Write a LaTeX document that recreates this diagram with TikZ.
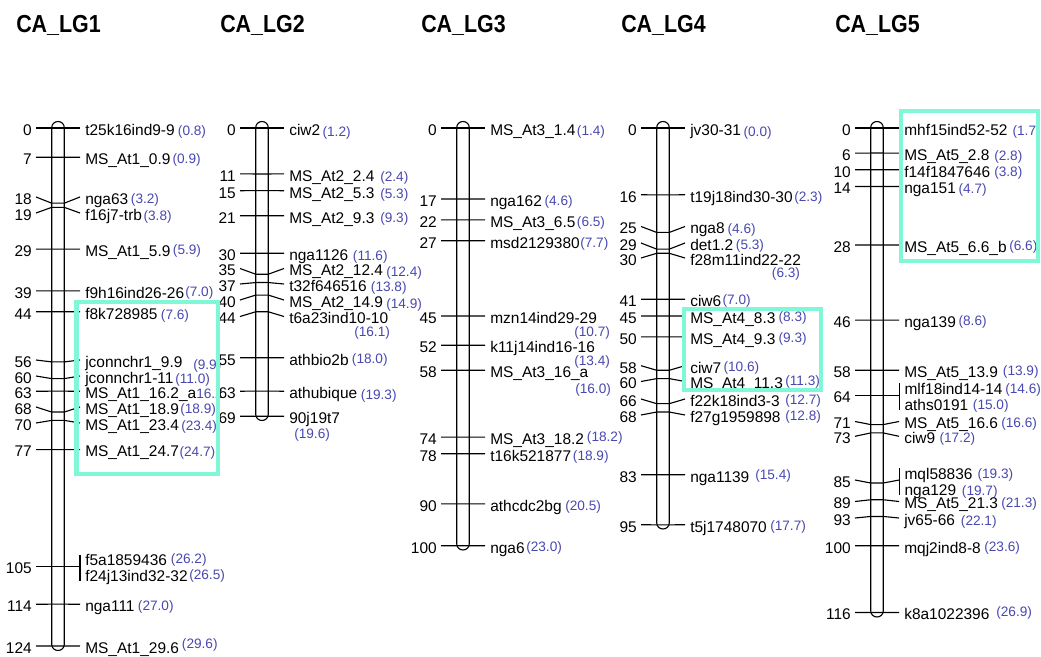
\documentclass[tikz,border=0pt]{standalone}
\usepackage{fontspec}
\setmainfont{Liberation Sans}
\definecolor{cmblue}{HTML}{4848B0}
\definecolor{boxteal}{HTML}{80F8D8}

% one marker: id, bar centre, position, label y, name, cM text, cM x, cM y
\newcommand{\mrk}[8]{%
  \node[posnum] (#1p) at ({#2-22},#4) {#3};
  \node[mname] (#1n) at ({#2+22},#4) {#5};
  \node[cmval] (#1c) at (#7,#8) {#6};
  \draw[tick] (#1p.east) -- ({#2-6.3},{128+4.177*#3})
    -- ({#2+6.3},{128+4.177*#3}) -- (#1n.west);
}

\begin{document}
\begin{tikzpicture}[x=0.025cm, y=-0.025cm,
  chrom/.style={draw, line width=0.8pt, rounded corners=0.155cm},
  tick/.style={line width=0.8pt},
  posnum/.style={anchor=east, inner xsep=0.1cm, inner ysep=0pt,
                 text height=10.5pt, text depth=0pt, font=\fontsize{11}{13}\selectfont},
  mname/.style={anchor=west, inner xsep=0.125cm, inner ysep=0pt,
                text height=10.5pt, text depth=0pt, font=\fontsize{11}{13}\selectfont},
  cmval/.style={anchor=west, inner sep=0pt, text=cmblue, font=\fontsize{9.7}{11}\selectfont},
  lgtitle/.style={anchor=west, inner sep=0pt, font=\bfseries\fontsize{17.5}{20}\selectfont},
  hilite/.style={draw=boxteal, line width=0.1cm},
]
\useasboundingbox (0,0) rectangle (1041,657);

\node[lgtitle] (lg1) at (16,25) {\scalebox{0.87}[1]{CA\_LG1}};
\node[lgtitle] (lg2) at (220,25) {\scalebox{0.87}[1]{CA\_LG2}};
\node[lgtitle] (lg3) at (421,25) {\scalebox{0.87}[1]{CA\_LG3}};
\node[lgtitle] (lg4) at (621,25) {\scalebox{0.87}[1]{CA\_LG4}};
\node[lgtitle] (lg5) at (835,25) {\scalebox{0.87}[1]{CA\_LG5}};

% chromosome bars
\draw[chrom] (51.7,121.5) rectangle (64.3,650.5);
\draw[chrom] (255.7,121.5) rectangle (268.3,420.5);
\draw[chrom] (456.7,121.5) rectangle (469.3,550);
\draw[chrom] (656.7,121.5) rectangle (669.3,529);
\draw[chrom] (870.7,121.5) rectangle (883.3,617);

% CA_LG1
\mrk{a0}{58}{0}{128}{t25k16ind9-9}{(0.8)}{177.7}{131.7}
\mrk{a7}{58}{7}{157.2}{MS\_At1\_0.9}{(0.9)}{172.3}{160}
\mrk{a18}{58}{18}{197}{nga63}{(3.2)}{130.7}{200}
\mrk{a19}{58}{19}{213}{f16j7-trb}{(3.8)}{143.3}{217.3}
\mrk{a29}{58}{29}{249.1}{MS\_At1\_5.9}{(5.9)}{172.7}{250.7}
\mrk{a39}{58}{39}{290.9}{f9h16ind26-26}{(7.0)}{185}{293.3}
\mrk{a44}{58}{44}{311.8}{f8k728985}{(7.6)}{160.7}{316}
\mrk{a56}{58}{56}{360}{jconnchr1\_9.9}{(9.9)}{193}{365.7}
\mrk{a60}{58}{60}{376}{jconnchr1-11}{(11.0)}{175}{380}
\mrk{a63}{58}{63}{391.3}{MS\_At1\_16.2\_a}{16.2}{196}{394}
\mrk{a68}{58}{68}{407}{MS\_At1\_18.9}{(18.9)}{180}{410}
\mrk{a70}{58}{70}{423}{MS\_At1\_23.4}{(23.4)}{181}{426.7}
\mrk{a77}{58}{77}{449.6}{MS\_At1\_24.7}{(24.7)}{179.3}{453.3}
\node[posnum] (a105p) at (36,566.6) {105};
\node[mname] (a105n) at (80,558) {f5a1859436};
\node[mname] (a105m) at (80,574) {f24j13ind32-32};
\node[cmval] (a105c) at (170.7,560) {(26.2)};
\node[cmval] (a105d) at (189,575.7) {(26.5)};
\coordinate (a105t) at (80,555);
\coordinate (a105b) at (80,580.7);
\draw[tick] (a105p.east) -- (a105p.east -| a105t);
\draw[tick] (a105t) -- (a105b);
\mrk{a114}{58}{114}{604.2}{nga111}{(27.0)}{137.7}{606.7}
\mrk{a124}{58}{124}{646}{MS\_At1\_29.6}{(29.6)}{181.7}{645}

% CA_LG2
\mrk{b0}{262}{0}{128}{ciw2}{(1.2)}{322.3}{133.3}
\mrk{b11}{262}{11}{173.9}{MS\_At2\_2.4}{(2.4)}{380}{178.3}
\mrk{b15}{262}{15}{190.7}{MS\_At2\_5.3}{(5.3)}{380}{195}
\mrk{b21}{262}{21}{215.7}{MS\_At2\_9.3}{(9.3)}{380}{219.3}
\mrk{b30}{262}{30}{253.3}{nga1126}{(11.6)}{352.7}{257.3}
\mrk{b35}{262}{35}{268.5}{MS\_At2\_12.4}{(12.4)}{386}{272.7}
\mrk{b37}{262}{37}{284}{t32f646516}{(13.8)}{370.7}{288.3}
\mrk{b40}{262}{40}{300}{MS\_At2\_14.9}{(14.9)}{386}{305}
\mrk{b44}{262}{44}{316.5}{t6a23ind10-10}{(16.1)}{354}{333.3}
\mrk{b55}{262}{55}{357.7}{athbio2b}{(18.0)}{351.7}{360}
\mrk{b63}{262}{63}{391.2}{athubique}{(19.3)}{360.7}{396}
\mrk{b69}{262}{69}{416.2}{90j19t7}{(19.6)}{294}{435}

% CA_LG3
\mrk{c0}{463}{0}{128}{MS\_At3\_1.4}{(1.4)}{576.7}{131.7}
\mrk{c17}{463}{17}{199}{nga162}{(4.6)}{544.3}{201.7}
\mrk{c22}{463}{22}{219.9}{MS\_At3\_6.5}{(6.5)}{576.7}{223.3}
\mrk{c27}{463}{27}{240.8}{msd2129380}{(7.7)}{580}{244}
\mrk{c45}{463}{45}{316}{mzn14ind29-29}{(10.7)}{574}{333.3}
\mrk{c52}{463}{52}{345.2}{k11j14ind16-16}{(13.4)}{574}{361.7}
\mrk{c58}{463}{58}{370.3}{MS\_At3\_16\_a}{(16.0)}{575}{390}
\mrk{c74}{463}{74}{437.1}{MS\_At3\_18.2}{(18.2)}{586.7}{438.3}
\mrk{c78}{463}{78}{453.8}{t16k521877}{(18.9)}{572.7}{456.7}
\mrk{c90}{463}{90}{503.9}{athcdc2bg}{(20.5)}{565}{506.7}
\mrk{c100}{463}{100}{545.7}{nga6}{(23.0)}{526}{548.3}

% CA_LG4
\mrk{d0}{663}{0}{128}{jv30-31}{(0.0)}{743.3}{133.3}
\mrk{d16}{663}{16}{194.8}{t19j18ind30-30}{(2.3)}{794}{198.3}
\mrk{d25}{663}{25}{226.5}{nga8}{(4.6)}{727.3}{230}
\mrk{d29}{663}{29}{243}{det1.2}{(5.3)}{735.7}{245.7}
\mrk{d30}{663}{30}{258}{f28m11ind22-22}{(6.3)}{771.7}{274}
\mrk{d41}{663}{41}{299.3}{ciw6}{(7.0)}{722.3}{301}
\mrk{d45}{663}{45}{316}{MS\_At4\_8.3}{(8.3)}{778.3}{318.3}
\mrk{d50}{663}{50}{336.9}{MS\_At4\_9.3}{(9.3)}{778.3}{339.3}
\mrk{d58}{663}{58}{365.7}{ciw7}{(10.6)}{723.3}{367.7}
\mrk{d60}{663}{60}{381.5}{MS\_At4\_11.3}{(11.3)}{785}{381.7}
\mrk{d66}{663}{66}{399}{f22k18ind3-3}{(12.7)}{785}{401}
\mrk{d68}{663}{68}{415}{f27g1959898}{(12.8)}{785}{417.3}
\mrk{d83}{663}{83}{474.7}{nga1139}{(15.4)}{755}{476}
\mrk{d95}{663}{95}{524.8}{t5j1748070}{(17.7)}{770}{527.3}

% CA_LG5
\mrk{e0}{877}{0}{128}{mhf15ind52-52}{(1.7)}{1012.3}{131.7}
\mrk{e6}{877}{6}{153.1}{MS\_At5\_2.8}{(2.8)}{994}{156.7}
\mrk{e10}{877}{10}{169.8}{f14f1847646}{(3.8)}{994}{172.7}
\mrk{e14}{877}{14}{186.5}{nga151}{(4.7)}{958.3}{190}
\mrk{e28}{877}{28}{245}{MS\_At5\_6.6\_b}{(6.6)}{1009}{246.7}
\mrk{e46}{877}{46}{320.1}{nga139}{(8.6)}{958.3}{321.7}
\mrk{e58}{877}{58}{370.3}{MS\_At5\_13.9}{(13.9)}{1002.7}{371.7}
\node[posnum] (e64p) at (855,395.3) {64};
\node[mname] (e64n) at (899.3,387.2) {mlf18ind14-14};
\node[mname] (e64m) at (899.3,403.2) {aths0191};
\node[cmval] (e64c) at (1005,390) {(14.6)};
\node[cmval] (e64d) at (972.7,406) {(15.0)};
\coordinate (e64t) at (899.3,383.3);
\coordinate (e64b) at (899.3,410);
\draw[tick] (e64p.east) -- (e64p.east -| e64t);
\draw[tick] (e64t) -- (e64b);
\mrk{e71}{877}{71}{421.5}{MS\_At5\_16.6}{(16.6)}{1001}{424}
\mrk{e73}{877}{73}{436.3}{ciw9}{(17.2)}{939.3}{439.3}
\node[posnum] (e85p) at (855,480) {85};
\node[mname] (e85n) at (899.3,472.2) {mql58836};
\node[mname] (e85m) at (899.3,488.2) {nga129};
\node[cmval] (e85c) at (977.3,475) {(19.3)};
\node[cmval] (e85d) at (961.7,491.7) {(19.7)};
\coordinate (e85t) at (899.3,468.3);
\coordinate (e85b) at (899.3,495);
\draw[tick] (e85p.east) -- (870.7,483) -- (883.3,483) -- (e85p.east -| e85t);
\draw[tick] (e85t) -- (e85b);
\mrk{e89}{877}{89}{501.5}{MS\_At5\_21.3}{(21.3)}{1001}{504}
\mrk{e93}{877}{93}{518}{jv65-66}{(22.1)}{960.7}{521.7}
\mrk{e100}{877}{100}{545.7}{mqj2ind8-8}{(23.6)}{984}{548.3}
\mrk{e116}{877}{116}{612.5}{k8a1022396}{(26.9)}{996}{613.3}

% highlight boxes
\draw[hilite] (76.5,301.7) rectangle (218.3,474.2);
\draw[hilite] (683.8,308.8) rectangle (820.8,389.8);
\draw[hilite] (900.5,110.8) rectangle (1038,260.8);

\end{tikzpicture}
\end{document}
